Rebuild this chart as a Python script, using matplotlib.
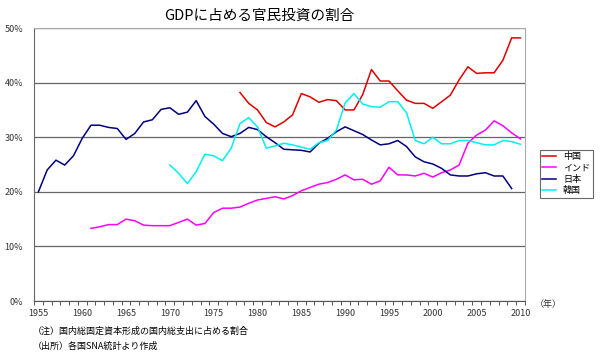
import numpy as np
import matplotlib.pyplot as plt
from matplotlib.ticker import MultipleLocator, FuncFormatter

plt.rcParams['font.family'] = ['Noto Sans CJK JP', 'DejaVu Sans']

# 日本 1955-2009
japan_years = list(range(1955, 2010))
japan = [20.0, 24.0, 25.8, 24.9, 26.6, 29.8, 32.2, 32.2, 31.8, 31.6,
         29.6, 30.7, 32.8, 33.2, 35.1, 35.4, 34.2, 34.6, 36.7, 33.8,
         32.4, 30.7, 30.1, 30.7, 31.8, 31.4, 30.1, 29.0, 27.8, 27.7,
         27.6, 27.3, 28.9, 29.8, 31.0, 31.9, 31.2, 30.5, 29.5, 28.6,
         28.8, 29.4, 28.3, 26.4, 25.5, 25.1, 24.3, 23.1, 22.9, 22.9,
         23.3, 23.5, 22.9, 22.9, 20.6]

# 中国 1978-2010
china_years = list(range(1978, 2011))
china = [38.2, 36.2, 35.0, 32.7, 31.9, 32.8, 34.1, 38.0, 37.4, 36.4,
         36.9, 36.7, 35.0, 35.0, 37.8, 42.4, 40.3, 40.3, 38.5, 36.8,
         36.2, 36.2, 35.3, 36.5, 37.7, 40.5, 42.9, 41.7, 41.8, 41.8,
         44.1, 48.2, 48.2]

# インド 1961-2010
india_years = list(range(1961, 2011))
india = [13.3, 13.6, 14.0, 14.0, 15.0, 14.7, 13.9, 13.8, 13.8, 13.8,
         14.4, 15.0, 13.9, 14.2, 16.2, 17.0, 17.0, 17.2, 17.9, 18.5,
         18.8, 19.1, 18.7, 19.3, 20.2, 20.8, 21.4, 21.7, 22.3, 23.1,
         22.2, 22.3, 21.4, 22.0, 24.5, 23.1, 23.1, 22.9, 23.4, 22.7,
         23.5, 24.0, 24.9, 28.9, 30.4, 31.3, 33.0, 32.1, 30.8, 29.7]

# 韓国 1970-2010
korea_years = list(range(1970, 2011))
korea = [24.9, 23.4, 21.5, 23.7, 26.9, 26.6, 25.7, 28.0, 32.5, 33.6,
         31.9, 28.0, 28.4, 28.9, 28.6, 28.2, 27.8, 29.0, 29.4, 31.3,
         36.3, 38.0, 36.1, 35.6, 35.5, 36.5, 36.5, 34.5, 29.4, 28.8,
         30.0, 28.8, 28.8, 29.4, 29.4, 29.0, 28.6, 28.6, 29.4, 29.2,
         28.7]

fig = plt.figure(figsize=(6, 3.62), dpi=100)
ax = fig.add_axes([0.0567, 0.1685, 0.818, 0.754])

ax.plot(china_years, china, color='#e00000', lw=1.1, label='中国')
ax.plot(india_years, india, color='#ff00ff', lw=1.1, label='インド')
ax.plot(japan_years, japan, color='#000080', lw=1.1, label='日本')
ax.plot(korea_years, korea, color='#00f0f0', lw=1.1, label='韓国')

ax.set_xlim(1954.5, 2010.5)
ax.set_ylim(0, 50)
ax.set_xticks(range(1955, 2011, 5))
ax.set_xticks(np.arange(1954.5, 2011, 1), minor=True)
ax.tick_params(axis='x', which='major', length=0, labelsize=6.5, pad=6, colors='#333333')
ax.tick_params(axis='x', which='minor', length=3, width=0.7, color='#555555', direction='out')
ax.yaxis.set_major_locator(MultipleLocator(10))
ax.yaxis.set_major_formatter(FuncFormatter(lambda v, p: f'{int(v)}%'))
ax.tick_params(axis='y', length=0, labelsize=6.5, pad=8, colors='#333333')

ax.grid(axis='y', color='#666666', lw=0.9)
for side in ['top', 'right']:
    ax.spines[side].set_color('#aaaaaa')
ax.spines['left'].set_color('#666666')
ax.spines['bottom'].set_color('#555555')

leg = ax.legend(loc='upper left', bbox_to_anchor=(1.030, 0.555), fontsize=6.5,
                frameon=True, fancybox=False, edgecolor='#444444',
                handlelength=1.5, handletextpad=0.8, borderpad=0.3,
                labelspacing=0.25, borderaxespad=0)
leg.get_frame().set_linewidth(0.8)

fig.text(0.433, 0.957, 'GDPに占める官民投資の割合', ha='center', va='center', fontsize=10.5)
fig.text(0.913, 0.158, '（年）', ha='center', va='center', fontsize=6.5, color='#333333')
fig.text(0.055, 0.086, '（注）国内総固定資本形成の国内総支出に占める割合', va='center', fontsize=6.5)
fig.text(0.055, 0.044, '（出所）各国SNA統計より作成', va='center', fontsize=6.5)

fig.savefig('out.png', dpi=100)
